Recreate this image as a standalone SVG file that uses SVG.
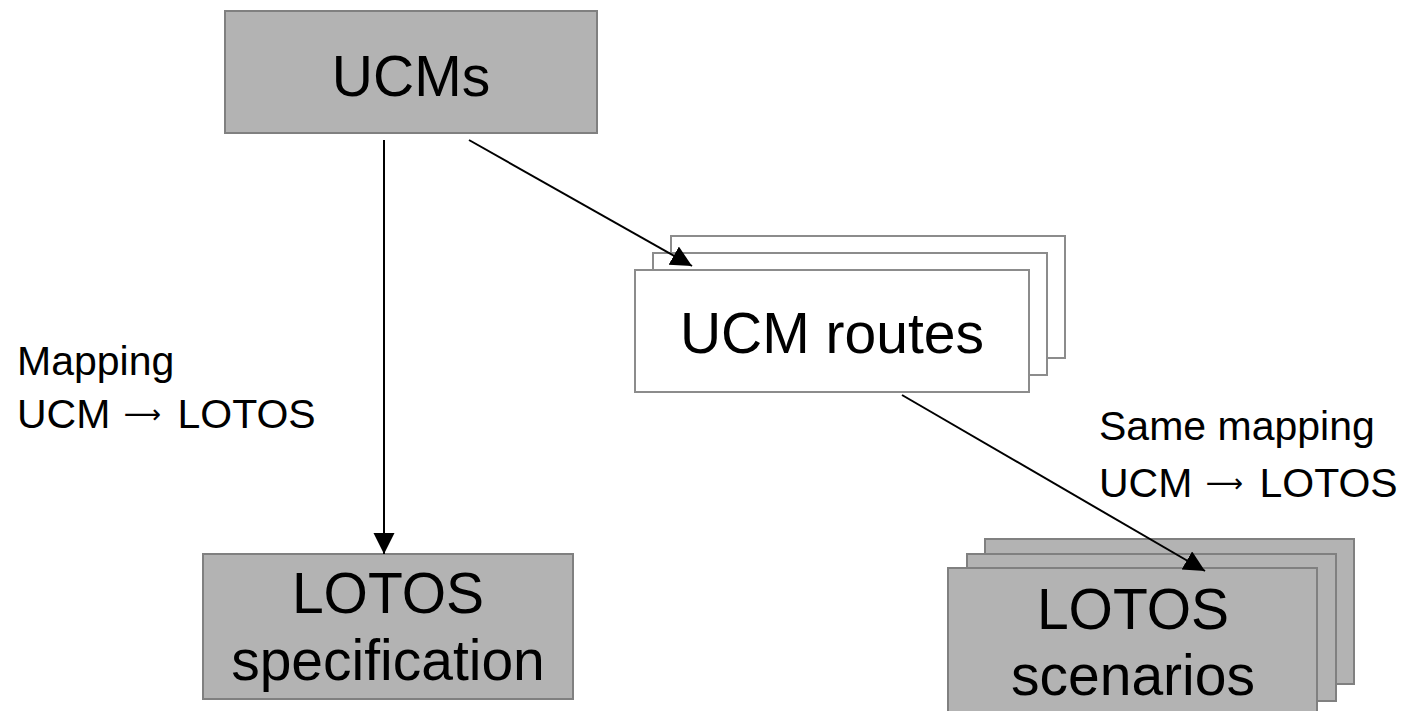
<svg xmlns="http://www.w3.org/2000/svg" width="1407" height="711" viewBox="0 0 1407 711">
  <defs>
    <marker id="arrow" markerUnits="userSpaceOnUse" markerWidth="22" markerHeight="22" refX="21" refY="10.5" orient="auto">
      <path d="M0,0 L21,10.5 L0,21 Z" fill="#000"/>
    </marker>
    <style>
      .grey { fill: #b3b3b3; stroke: #808080; stroke-width: 2; }
      .white { fill: #ffffff; stroke: #8c8c8c; stroke-width: 2; }
      .big { font-family: "Liberation Sans", Arial, sans-serif; font-size: 57px; fill: #000; text-anchor: middle; }
      .note { font-family: "Liberation Sans", Arial, sans-serif; font-size: 41px; fill: #000; }
      .sym { font-family: "DejaVu Sans", sans-serif; font-size: 26px; }
      .conn { stroke: #000; stroke-width: 2; fill: none; marker-end: url(#arrow); }
    </style>
  </defs>

  <rect width="1407" height="711" fill="#ffffff"/>

  <!-- source node -->
  <g id="ucms">
    <rect class="grey" x="225" y="11" width="372" height="122"/>
    <text class="big" x="411" y="96">UCMs</text>
  </g>

  <!-- stacked route sheets -->
  <g id="ucm-routes">
    <rect class="white" x="671" y="236" width="394" height="122"/>
    <rect class="white" x="653" y="253" width="394" height="122"/>
    <rect class="white" x="635" y="270" width="394" height="122"/>
    <text class="big" x="832" y="353">UCM routes</text>
  </g>

  <g id="lotos-spec">
    <rect class="grey" x="203" y="554" width="370" height="145"/>
    <text class="big" x="388" y="613">LOTOS</text>
    <text class="big" x="388" y="680">specification</text>
  </g>

  <!-- stacked scenario sheets -->
  <g id="lotos-scenarios">
    <rect class="grey" x="985" y="539" width="369" height="145"/>
    <rect class="grey" x="967" y="554" width="369" height="147"/>
    <rect class="grey" x="948" y="568" width="369" height="150"/>
    <text class="big" x="1133" y="629">LOTOS</text>
    <text class="big" x="1133" y="695">scenarios</text>
  </g>

  <g id="connectors">
    <path class="conn" d="M384,140 L384,554"/>
    <path class="conn" d="M469,140 L692,266"/>
    <path class="conn" d="M902,395 L1205,571"/>
  </g>

  <!-- mapping labels; the arrow is a long arrow glyph raised to the cap middle -->
  <g id="labels">
    <text class="note" x="17" y="375">Mapping</text>
    <text class="note" x="17" y="428">UCM <tspan class="sym" dx="2" dy="-5">⟶</tspan><tspan dx="5" dy="5"> LOTOS</tspan></text>
    <text class="note" x="1099" y="440">Same mapping</text>
    <text class="note" x="1099" y="497">UCM <tspan class="sym" dx="2" dy="-5">⟶</tspan><tspan dx="5" dy="5"> LOTOS</tspan></text>
  </g>
</svg>
